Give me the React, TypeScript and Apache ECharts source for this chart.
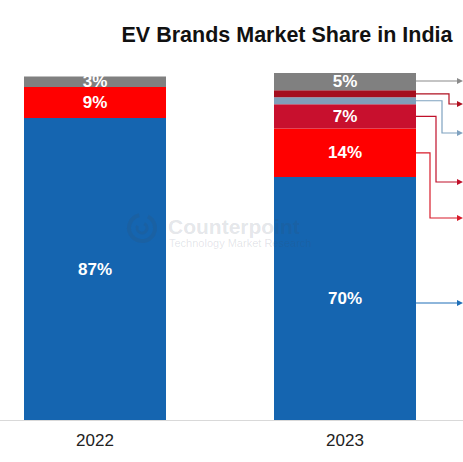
import React, { useEffect, useRef } from "react";
import * as echarts from "echarts";

const years = ["2022", "2023"];
const others = [87, 70];      // blue (bottom)
const brandA = [9, 14];       // bright red
const brandB = [null, 7];     // crimson
const brandC = [null, 2];     // light steel blue
const brandD = [null, 2];     // dark red
const topShare = [3, 5];      // gray (top)

const FONT = "'Liberation Sans', Arial, Helvetica, sans-serif";

// connectors on the right side of the 2023 bar (layout only)
const connectorTargetsY = [81, 104, 133, 182, 218, 303];
const connectorBendX = [0, 449, 442, 436, 430, 0];

export default function App() {
  const ref = useRef<HTMLDivElement>(null);
  useEffect(() => {
    if (!ref.current) return;
    const chart = echarts.init(ref.current, null, { renderer: "svg" });
    const label = (show: boolean) => ({
      show,
      position: "inside",
      formatter: "{c}%",
      color: "#ffffff",
      fontFamily: FONT,
      fontWeight: "bold",
      fontSize: 17,
    });
    const seriesDefs = [
      { name: "Others", data: others, color: "#1565B0", lbl: true },
      { name: "Brand A", data: brandA, color: "#FF0000", lbl: true },
      { name: "Brand B", data: brandB, color: "#C8102E", lbl: true },
      { name: "Brand C", data: brandC, color: "#7F9FBA", lbl: false },
      { name: "Brand D", data: brandD, color: "#A50E1E", lbl: false },
      { name: "Top", data: topShare, color: "#808080", lbl: true },
    ];
    chart.setOption({
      animation: false,
      backgroundColor: "#ffffff",
      grid: { left: 95, right: 118, top: 73, bottom: 42, containLabel: false },
      xAxis: {
        type: "category",
        data: years,
        boundaryGap: false,
        axisLine: { show: false },
        axisTick: { show: false },
        axisLabel: { color: "#222222", fontSize: 17, fontFamily: FONT, margin: 12 },
      },
      yAxis: { type: "value", min: 0, max: 100, show: false },
      series: seriesDefs.map((s) => ({
        name: s.name,
        type: "bar",
        stack: "total",
        data: s.data,
        barWidth: 142,
        itemStyle: { color: s.color },
        label: label(s.lbl),
      })),
    });

    const graphics: any[] = [];
    const baseY = (chart.convertToPixel({ gridIndex: 0 }, [0, 0]) as number[])[1];
    graphics.push({
      type: "line",
      shape: { x1: 0, y1: baseY + 0.5, x2: 463, y2: baseY + 0.5 },
      style: { stroke: "#d9d9d9", lineWidth: 1 },
      z: 1,
    });

    // compute connector start points from the stacked values of 2023
    const idx = 1;
    const colors = ["#8a8a8a", "#b01020", "#7fa2c0", "#c0102a", "#d81b2a", "#1f6fb8"];
    const stackVals = [others[idx], brandA[idx], brandB[idx] || 0, brandC[idx] || 0, brandD[idx] || 0, topShare[idx]];
    const mids: number[] = [];
    let acc = 0;
    stackVals.forEach((v) => {
      mids.push(acc + v / 2);
      acc += v;
    });
    // order top to bottom: gray, darkred, lightblue, crimson, red, blue
    const order = [5, 4, 3, 2, 1, 0];
    const center = chart.convertToPixel({ gridIndex: 0 }, [idx, 0]) as number[];
    const barRight = center[0] + 71;
    const tipX = 463;
    order.forEach((si, k) => {
      const ty = connectorTargetsY[k];
      const bend = connectorBendX[k];
      const sy = (chart.convertToPixel({ gridIndex: 0 }, [idx, mids[si]]) as number[])[1];
      const pts = bend
        ? [[barRight, sy], [bend, sy], [bend, ty], [tipX - 6, ty]]
        : [[barRight, ty], [tipX - 6, ty]];
      const c = colors[k];
      graphics.push({
        type: "polyline",
        shape: { points: pts },
        style: { stroke: c, lineWidth: 1.2, fill: null },
        z: 50,
      });
      graphics.push({
        type: "polygon",
        shape: { points: [[tipX - 6, ty - 3], [tipX, ty], [tipX - 6, ty + 3]] },
        style: { fill: c },
        z: 50,
      });
    });

    // title
    graphics.push({
      type: "text",
      x: 287,
      y: 35,
      style: {
        text: "EV Brands Market Share in India",
        fontFamily: FONT,
        fontWeight: "bold",
        fontSize: 21.5,
        fill: "#111111",
        align: "center",
        verticalAlign: "middle",
      },
      z: 60,
    });

    // watermark
    const wm = "rgba(60,72,95,0.15)";
    graphics.push({
      type: "arc",
      shape: { cx: 142, cy: 228, r: 13, startAngle: -1.1, endAngle: 4.5 },
      style: { stroke: wm, lineWidth: 4, fill: null },
      z: 100,
    });
    graphics.push({
      type: "arc",
      shape: { cx: 142, cy: 228, r: 5, startAngle: -1.1, endAngle: 3.6 },
      style: { stroke: wm, lineWidth: 3, fill: null },
      z: 100,
    });
    graphics.push({
      type: "text",
      x: 168,
      y: 226,
      style: {
        text: "Counterpoint",
        fontFamily: FONT,
        fontWeight: "bold",
        fontSize: 21,
        fill: wm,
        align: "left",
        verticalAlign: "middle",
      },
      z: 100,
    });
    graphics.push({
      type: "text",
      x: 169,
      y: 243,
      style: {
        text: "Technology Market Research",
        fontFamily: FONT,
        fontSize: 11,
        fill: wm,
        align: "left",
        verticalAlign: "middle",
      },
      z: 100,
    });

    chart.setOption({ graphic: graphics });
    return () => chart.dispose();
  }, []);
  return (
    <div
      ref={ref}
      style={{ position: "fixed", left: 0, top: 0, width: 463, height: 462, background: "#fff" }}
    />
  );
}
